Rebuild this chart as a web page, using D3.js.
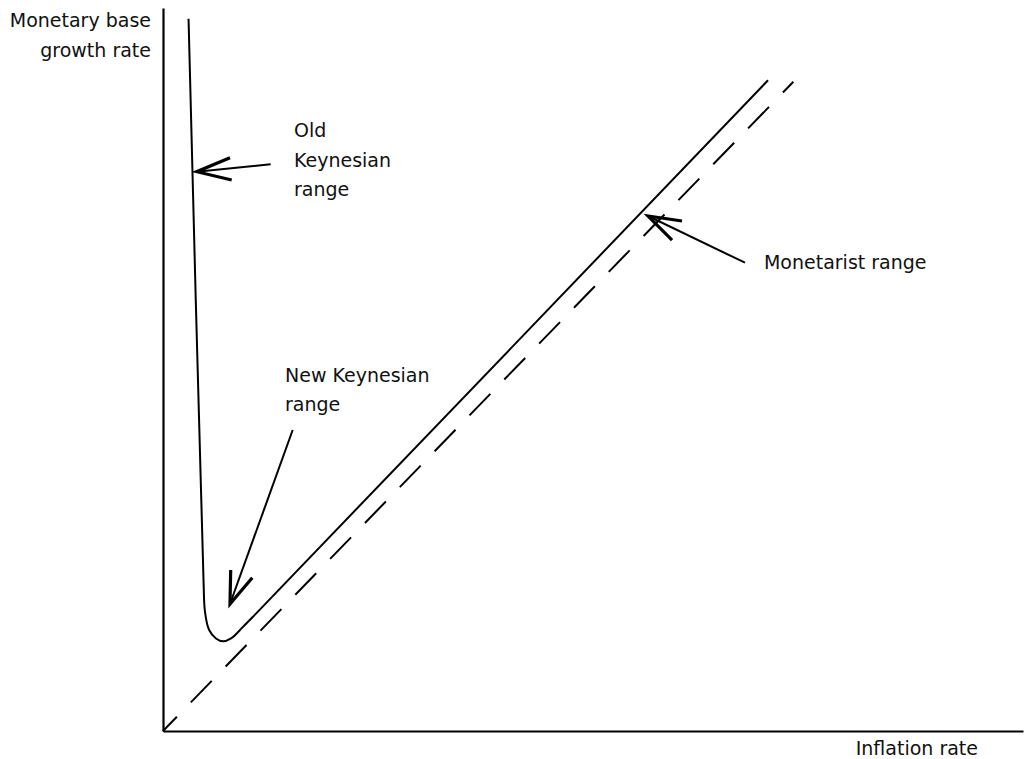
<!DOCTYPE html>
<html>
<head>
<meta charset="utf-8">
<script src="https://cdn.jsdelivr.net/npm/d3@7"></script>
<style>
  html, body { margin: 0; padding: 0; background: #fff; }
  svg { display: block; }
  text { font-family: "DejaVu Sans", "Open Sans", sans-serif; font-size: 19px; fill: #111; }
</style>
</head>
<body>
<svg id="chart" width="1024" height="759"></svg>
<script>
// ---- data (in chart units: inflation rate on x, monetary base growth on y, 0-100) ----
const curveX = [2.97, 4.71, 4.88, 5.35, 6.16, 6.98, 7.91, 9.30, 10.70, 70.35];
const curveY = [98.5, 20.9, 16.5, 14.0, 12.8, 12.4, 12.8, 14.4, 16.1, 90.0];
const dashedX = [73.3, 0];
const dashedY = [89.8, 0];

const arrowNames = ["Old Keynesian", "Monetarist", "New Keynesian"];
const arrowTail = [[12.52, 78.38], [67.67, 64.77], [15.08, 41.63]];
const arrowTip  = [[3.92, 77.36], [56.40, 71.23], [7.79, 17.57]];
const arrowBarbA = [[7.79, 79.28], [60.35, 70.54], [7.87, 22.27]];
const arrowBarbB = [[7.99, 76.21], [59.19, 67.91], [10.38, 21.20]];

const labelLines = [["Old", "Keynesian", "range"], ["Monetarist range"], ["New Keynesian", "range"]];
const labelPos = [[15.23, 82.1], [69.88, 63.9], [14.19, 48.3]];
const yAxisTitle = ["Monetary base", "growth rate"];
const xAxisTitle = "Inflation rate";

// ---- layout ----
const W = 1024, H = 759;
const margin = {left: 163, right: 1, top: 8, bottom: 28};
const x = d3.scaleLinear().domain([0, 100]).range([margin.left, W - margin.right]);
const y = d3.scaleLinear().domain([0, 100]).range([H - margin.bottom, margin.top]);

const svg = d3.select("#chart");

// axes (plain lines, no ticks)
svg.append("g")
  .attr("transform", `translate(0,${y(0)})`)
  .call(d3.axisBottom(x).tickValues([]).tickSizeOuter(0))
  .call(g => g.select(".domain").attr("stroke", "#000").attr("stroke-width", 2.2));
svg.append("g")
  .attr("transform", `translate(${x(0)},0)`)
  .call(d3.axisLeft(y).tickValues([]).tickSizeOuter(0))
  .call(g => g.select(".domain").attr("stroke", "#000").attr("stroke-width", 2.2));

// dashed 45-degree line
const dashed = dashedX.map((v, i) => [v, dashedY[i]]);
svg.append("path")
  .datum(dashed)
  .attr("d", d3.line().x(d => x(d[0])).y(d => y(d[1])))
  .attr("fill", "none").attr("stroke", "#000").attr("stroke-width", 2)
  .attr("stroke-dasharray", "30,20").attr("stroke-dashoffset", 15);

// the L-shaped curve
const curve = curveX.map((v, i) => [v, curveY[i]]);
svg.append("path")
  .datum(curve)
  .attr("d", d3.line().x(d => x(d[0])).y(d => y(d[1])).curve(d3.curveCatmullRom.alpha(0.5)))
  .attr("fill", "none").attr("stroke", "#000").attr("stroke-width", 2);

// arrows
const lineGen = d3.line().x(d => x(d[0])).y(d => y(d[1]));
arrowNames.forEach((name, i) => {
  const g = svg.append("g").attr("class", "arrow");
  g.append("path").attr("d", lineGen([arrowTail[i], arrowTip[i]]))
    .attr("fill", "none").attr("stroke", "#000").attr("stroke-width", 2);
  g.append("path").attr("d", lineGen([arrowBarbA[i], arrowTip[i], arrowBarbB[i]]))
    .attr("fill", "none").attr("stroke", "#000").attr("stroke-width", 3.2)
    .attr("stroke-linejoin", "miter");
});

// annotation labels
labelLines.forEach((lines, i) => {
  const t = svg.append("text").attr("x", x(labelPos[i][0])).attr("y", y(labelPos[i][1]));
  lines.forEach((s, j) => t.append("tspan").attr("x", x(labelPos[i][0])).attr("dy", j === 0 ? 0 : 29.5).text(s));
});

// axis titles
const yt = svg.append("text").attr("text-anchor", "end").attr("x", 151).attr("y", 27);
yAxisTitle.forEach((s, j) => yt.append("tspan").attr("x", 151).attr("dy", j === 0 ? 0 : 30).text(s));
svg.append("text").attr("text-anchor", "end").attr("x", 978).attr("y", 755).text(xAxisTitle);
</script>
</body>
</html>
